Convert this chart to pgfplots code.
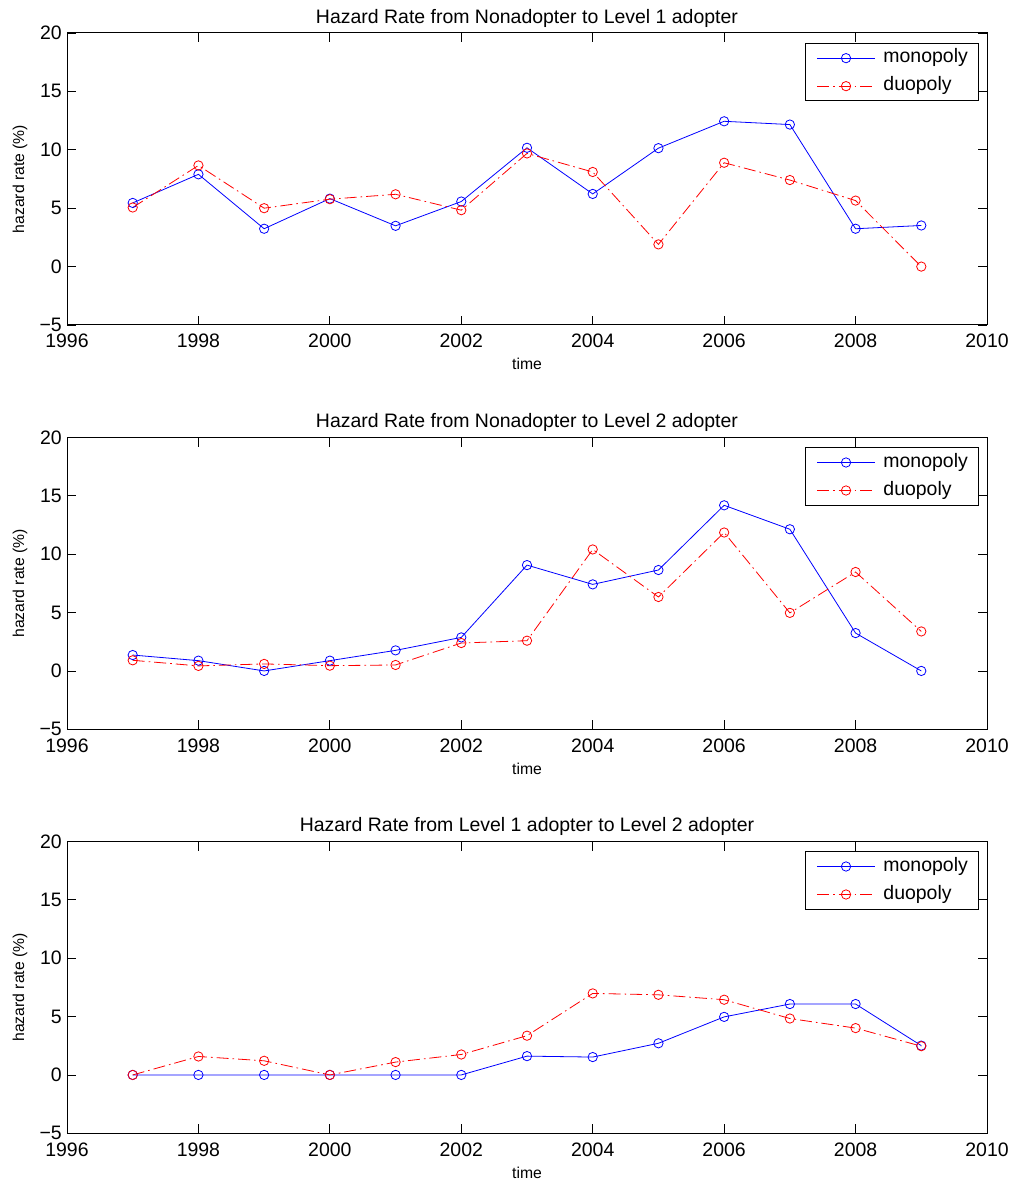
\documentclass[border=0pt]{standalone}
\usepackage{pgfplots}
\pgfplotsset{compat=1.18}
\usepackage{fontspec}
\setmainfont{Liberation Sans}

\pgfplotsset{
  hazard/.style={
    scale only axis, width=690bp, height=219bp,
    xmin=1996, xmax=2010, ymin=-5, ymax=20,
    xtick={1996,1998,...,2010},
    xticklabels={1996,1998,2000,2002,2004,2006,2008,2010},
    ytick={-5,0,5,10,15,20},
    yticklabels={−5,0,5,10,15,20},
    /pgf/number format/assume math mode=true,
    tick align=inside, major tick length=6.9bp,
    tick style={black, line width=0.6bp},
    axis line style={black, line width=0.75bp},
    ticklabel style={font=\fontsize{14.6bp}{17bp}\selectfont},
    xticklabel style={anchor=base, yshift=-17.25bp, inner sep=0pt},
    yticklabel style={anchor=east, xshift=-3.75bp, inner sep=0pt},
    title style={font=\fontsize{14.6bp}{17bp}\selectfont, at={(0.5,1)}, anchor=base, yshift=1.5bp},
    xlabel={time}, ylabel={hazard rate (\%)},
    label style={font=\fontsize{11.8bp}{14bp}\selectfont},
    xlabel style={at={(axis description cs:0.5,0)}, anchor=base, yshift=-33.75bp},
    ylabel style={at={(axis description cs:0,0.5)}, anchor=center, yshift=35.25bp},
    legend style={
      at={(rel axis cs:1,1)}, anchor=north east, xshift=-6bp, yshift=-7.5bp,
      draw=black, line width=0.75bp, fill=white,
      font=\fontsize{14.6bp}{17bp}\selectfont,
      inner xsep=8bp, inner ysep=3.5bp,
      column sep=6bp, row sep=6bp,
      nodes={inner sep=0pt, text height=11bp, text depth=4bp},
      cells={anchor=west},
    },
    legend image code/.code={
      \draw[mark repeat=2, mark phase=2]
        plot coordinates {(0bp,0bp) (21.75bp,0bp) (43.5bp,0bp)};
    },
  },
  mono/.style={blue, line width=0.6bp, mark=o, mark size=3.5bp},
  duo/.style={red, line width=0.6bp, dash pattern=on 9bp off 3bp on 1.2bp off 3bp,
    mark=o, mark size=3.5bp, mark options={solid}},
}

\begin{document}
\begin{tikzpicture}
\path[use as bounding box] (0bp,0bp) rectangle (762.75bp,889.5bp);

% Nonadopter -> Level 1
\begin{axis}[hazard, at={(50.25bp,645.75bp)}, anchor=south west,
  title={Hazard Rate from Nonadopter to Level 1 adopter}]
\addplot[mono] coordinates {
  (1997,5.45) (1998,7.90) (1999,3.24) (2000,5.82) (2001,3.49) (2002,5.57)
  (2003,10.17) (2004,6.22) (2005,10.14) (2006,12.44) (2007,12.16) (2008,3.24) (2009,3.52)};
\addlegendentry{monopoly}
\addplot[duo] coordinates {
  (1997,5.06) (1998,8.66) (1999,5.00) (2000,5.77) (2001,6.19) (2002,4.83)
  (2003,9.69) (2004,8.10) (2005,1.90) (2006,8.89) (2007,7.41) (2008,5.65) (2009,0.00)};
\addlegendentry{duopoly}
\end{axis}

% Nonadopter -> Level 2
\begin{axis}[hazard, at={(50.25bp,342.5bp)}, anchor=south west,
  title={Hazard Rate from Nonadopter to Level 2 adopter}]
\addplot[mono] coordinates {
  (1997,1.36) (1998,0.88) (1999,0.00) (2000,0.88) (2001,1.76) (2002,2.87)
  (2003,9.06) (2004,7.41) (2005,8.64) (2006,14.18) (2007,12.13) (2008,3.24) (2009,0.00)};
\addlegendentry{monopoly}
\addplot[duo] coordinates {
  (1997,0.91) (1998,0.43) (1999,0.60) (2000,0.45) (2001,0.51) (2002,2.39)
  (2003,2.59) (2004,10.40) (2005,6.33) (2006,11.85) (2007,4.97) (2008,8.47) (2009,3.38)};
\addlegendentry{duopoly}
\end{axis}

% Level 1 -> Level 2
\begin{axis}[hazard, at={(50.25bp,39.5bp)}, anchor=south west,
  title={Hazard Rate from Level 1 adopter to Level 2 adopter}]
\addplot[mono] coordinates {
  (1997,0) (1998,0) (1999,0) (2000,0) (2001,0) (2002,0)
  (2003,1.61) (2004,1.53) (2005,2.71) (2006,4.97) (2007,6.07) (2008,6.07) (2009,2.51)};
\addlegendentry{monopoly}
\addplot[duo] coordinates {
  (1997,0) (1998,1.58) (1999,1.21) (2000,0) (2001,1.10) (2002,1.75)
  (2003,3.36) (2004,6.98) (2005,6.86) (2006,6.44) (2007,4.83) (2008,4.01) (2009,2.46)};
\addlegendentry{duopoly}
\end{axis}
\end{tikzpicture}
\end{document}
